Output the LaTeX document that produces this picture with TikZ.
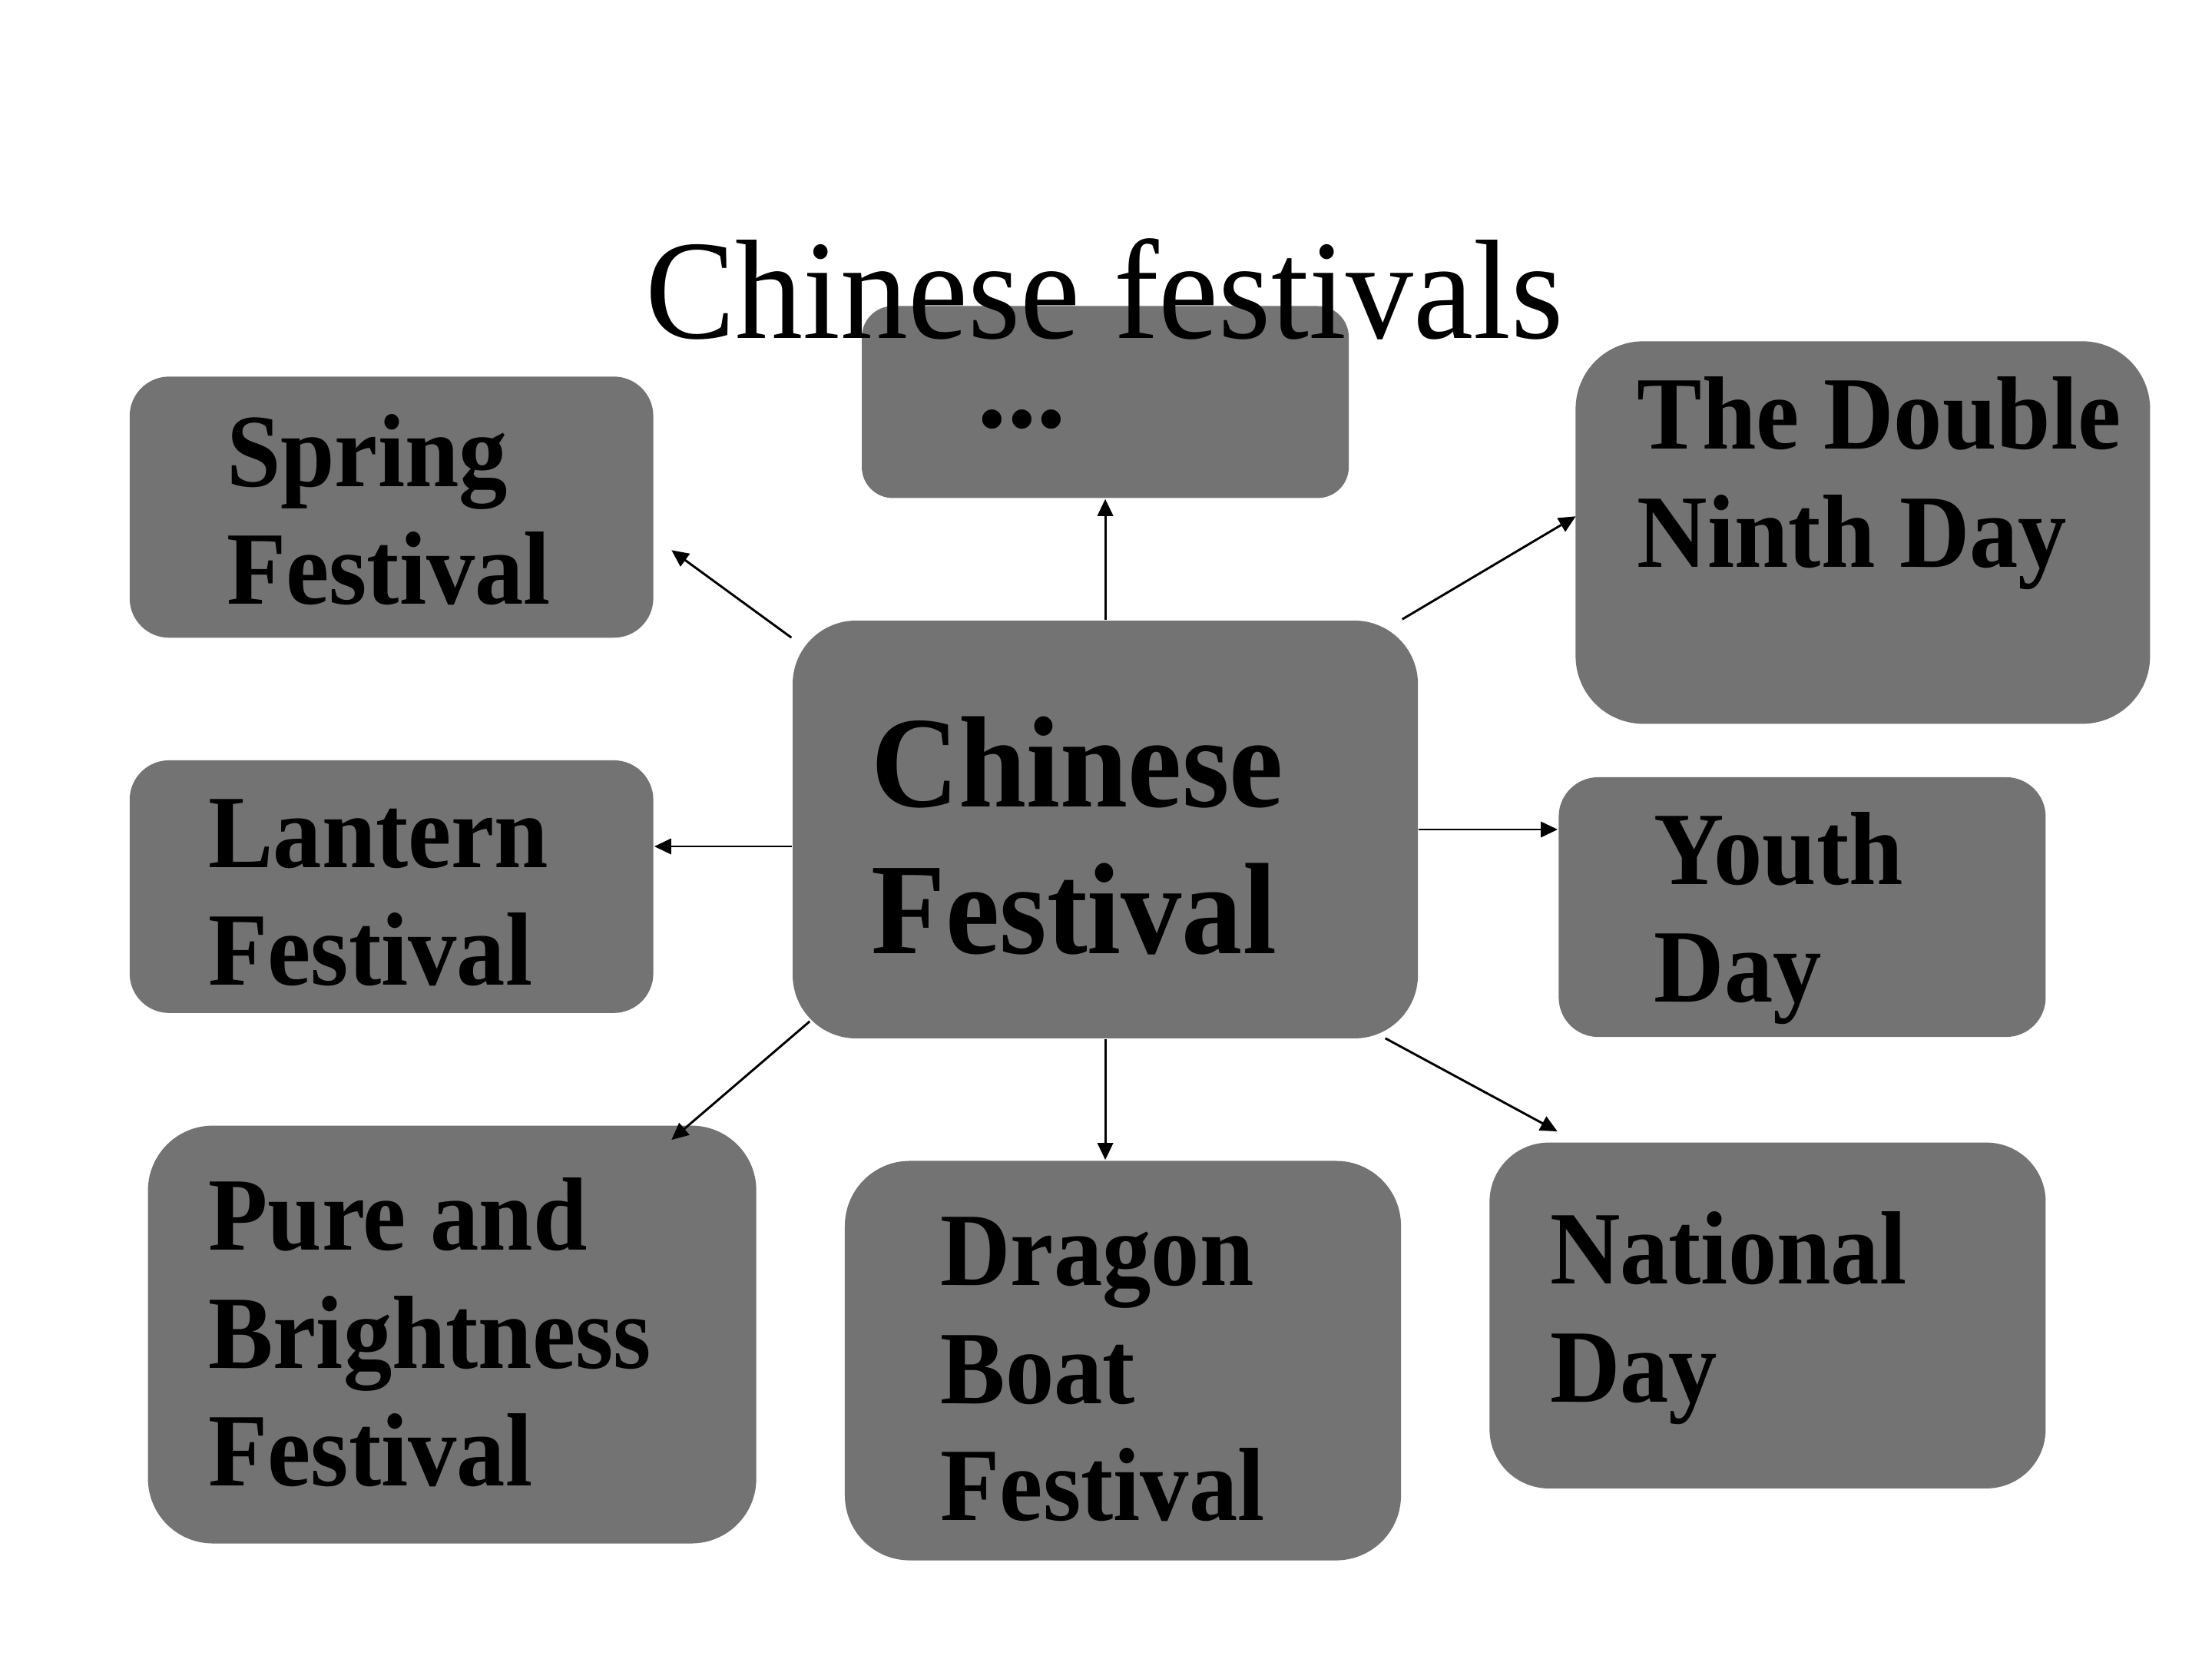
\documentclass[tikz,border=0pt]{standalone}
\usepackage{fontspec}
\setmainfont{Liberation Serif}
\usepackage{graphicx}
\usetikzlibrary{arrows.meta}
\definecolor{boxgray}{HTML}{737373}
\newcommand{\stt}[1]{\scalebox{1}[1.07]{#1}}
\newcommand{\ttl}[1]{\scalebox{1}[1.05]{#1}}
\tikzset{
  fbox/.style={draw=none, fill=boxgray, rectangle, inner sep=0pt},
  lab/.style={anchor=base west, inner sep=0pt, font=\fontsize{19.6}{20}\selectfont\bfseries},
  biglab/.style={anchor=base west, inner sep=0pt, font=\fontsize{24.5}{25}\selectfont\bfseries},
  conn/.style={line width=0.45pt, -{Triangle[length=0.12cm, width=0.11cm]}},
}
\begin{document}
\begin{tikzpicture}[x=0.01cm, y=-0.01cm]
\useasboundingbox (0,0) rectangle (1568,1176);
\fill[white] (0,0) rectangle (1568,1176);
% boxes
\node[fbox, minimum width=3.71cm, minimum height=1.85cm, rounded corners=0.28cm] (spring) at (277.5,359.5) {};
\node[fbox, minimum width=3.45cm, minimum height=1.36cm, rounded corners=0.22cm] (dots) at (783.5,285) {};
\node[fbox, minimum width=4.07cm, minimum height=2.71cm, rounded corners=0.48cm] (ninth) at (1320.5,377.5) {};
\node[fbox, minimum width=4.43cm, minimum height=2.96cm, rounded corners=0.45cm] (cf) at (783.5,588) {};
\node[fbox, minimum width=3.71cm, minimum height=1.79cm, rounded corners=0.28cm] (lantern) at (277.5,628.5) {};
\node[fbox, minimum width=3.45cm, minimum height=1.84cm, rounded corners=0.28cm] (youth) at (1277.5,643) {};
\node[fbox, minimum width=4.31cm, minimum height=2.96cm, rounded corners=0.46cm] (pure) at (320.5,946) {};
\node[fbox, minimum width=3.94cm, minimum height=2.83cm, rounded corners=0.46cm] (dragon) at (796,964.5) {};
\node[fbox, minimum width=3.94cm, minimum height=2.45cm, rounded corners=0.42cm] (national) at (1253,932.5) {};
% texts
\node[lab] (t1a) at (160,345) {\stt{Spring}};
\node[lab] (t1b) at (160,428) {\stt{Festival}};
\node[lab, font=\fontsize{24}{24}\selectfont\bfseries] (t2) at (692,303) {...};
\node[lab] (t3a) at (1160,318) {\stt{The Double}};
\node[lab] (t3b) at (1160,402) {\stt{Ninth Day}};
\node[biglab] (t4a) at (617,572) {\stt{Chinese}};
\node[biglab] (t4b) at (617,676) {\stt{Festival}};
\node[lab] (t5a) at (147,615) {\stt{Lantern}};
\node[lab] (t5b) at (147,698) {\stt{Festival}};
\node[lab] (t6a) at (1172,627) {\stt{Youth}};
\node[lab] (t6b) at (1172,710) {\stt{Day}};
\node[lab] (t7a) at (147,886) {\stt{Pure and}};
\node[lab] (t7b) at (147,970) {\stt{Brightness}};
\node[lab] (t7c) at (147,1053) {\stt{Festival}};
\node[lab] (t8a) at (666,911) {\stt{Dragon}};
\node[lab] (t8b) at (666,995) {\stt{Boat}};
\node[lab] (t8c) at (666,1078) {\stt{Festival}};
\node[lab] (t9a) at (1098,910) {\stt{National}};
\node[lab] (t9b) at (1098,994) {\stt{Day}};
% title
\node[anchor=base, inner sep=0pt, font=\fontsize{27.2}{28}\selectfont] (title) at (783,240) {\ttl{Chinese festivals}};
% connector endpoints
\coordinate (s1) at (561,452); \coordinate (e1) at (476,390);
\coordinate (s3) at (994,439); \coordinate (e3) at (1117,366);
\coordinate (s7) at (574,724); \coordinate (e7) at (476,808);
\coordinate (s9) at (982,736); \coordinate (e9) at (1104,802);
% connectors
\draw[conn] (s1) -- (e1);
\draw[conn] (cf.north) -- (dots.south);
\draw[conn] (s3) -- (e3);
\draw[conn] (cf.west |- 0,600) -- (lantern.east |- 0,600);
\draw[conn] (cf.east |- 0,588) -- (youth.west |- 0,588);
\draw[conn] (s7) -- (e7);
\draw[conn] (cf.south) -- (cf.south |- dragon.north);
\draw[conn] (s9) -- (e9);
\end{tikzpicture}
\end{document}
